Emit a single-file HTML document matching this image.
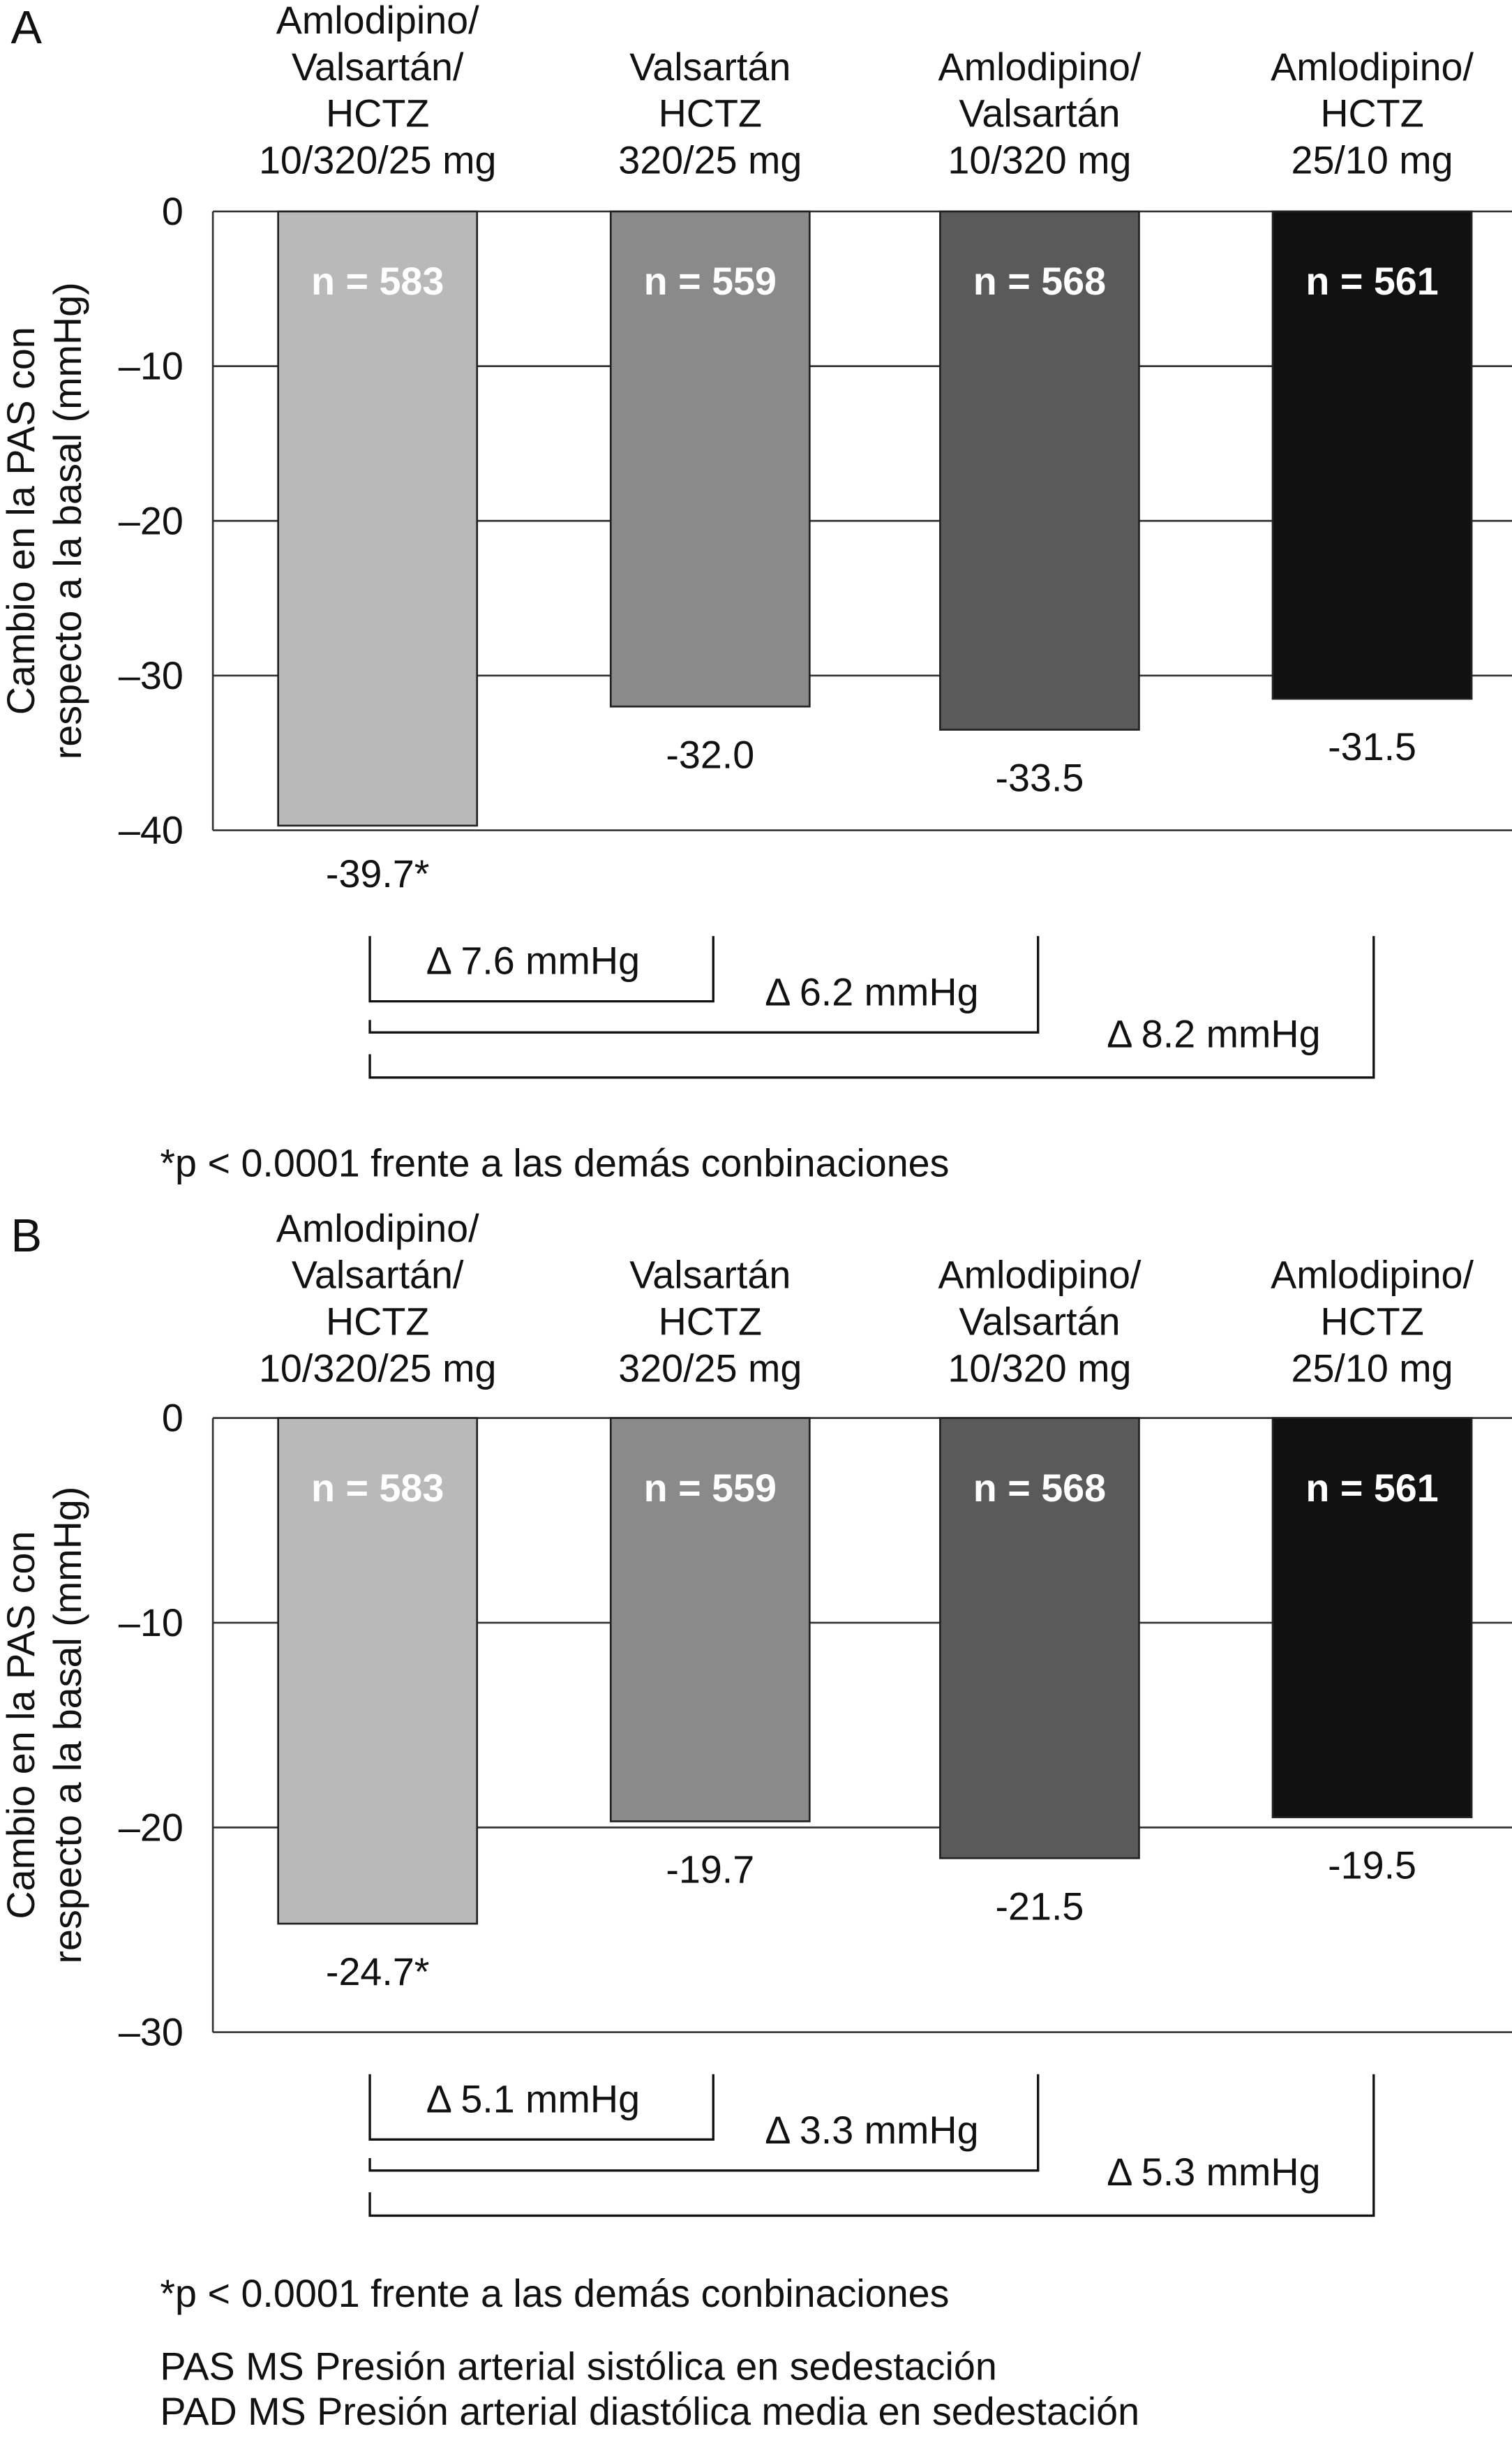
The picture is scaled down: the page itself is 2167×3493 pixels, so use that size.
<!DOCTYPE html>
<html><head><meta charset="utf-8"><style>
html,body{margin:0;padding:0;background:#fff;}
svg{display:block;font-family:"Liberation Sans",Arial,sans-serif;}
</style></head><body>
<svg id="fig" width="2167" height="3493" viewBox="0 0 973 1568" preserveAspectRatio="none" xmlns="http://www.w3.org/2000/svg">
<g id="root"></g>
</svg>
<script>
const categoryLines = [["Amlodipino/","Valsartán/","HCTZ","10/320/25 mg"],["Valsartán","HCTZ","320/25 mg"],["Amlodipino/","Valsartán","10/320 mg"],["Amlodipino/","HCTZ","25/10 mg"]];
const nLabels = ["n = 583","n = 559","n = 568","n = 561"];
const valuesA = [-39.7, -32.0, -33.5, -31.5];
const labelsA = ["-39.7*","-32.0","-33.5","-31.5"];
const ticksA = [0,-10,-20,-30,-40];
const valuesB = [-24.7, -19.7, -21.5, -19.5];
const labelsB = ["-24.7*","-19.7","-21.5","-19.5"];
const ticksB = [0,-10,-20,-30];
const deltasA = ["Δ 7.6 mmHg","Δ 6.2 mmHg","Δ 8.2 mmHg"];
const deltasB = ["Δ 5.1 mmHg","Δ 3.3 mmHg","Δ 5.3 mmHg"];

const NS="http://www.w3.org/2000/svg";
const root=document.getElementById('root');
const colors=["#b9b9b9","#8a8a8a","#5a5a5a","#111111"];
const centers=[243,457,669,883];
const FS=25;
function mk(tag,attrs,parent){const e=document.createElementNS(NS,tag);for(const k in attrs)e.setAttribute(k,attrs[k]);(parent||root).appendChild(e);return e;}
function txt(s,x,y,attrs,parent){const t=mk('text',Object.assign({x:x,y:y,'font-size':FS,'text-anchor':'middle','dominant-baseline':'central',fill:'#111'},attrs||{}),parent);t.textContent=s;return t;}

function chart(id,letter,letterY,catTop,y0,yMin,ymBottom,values,labels,ticks,deltas,brTop,foot){
  const g=mk('g',{});
  
  
  const min=ticks[ticks.length-1];
  const y=v=>y0+(v/min)*(ymBottom-y0);
  const L=txt(letter,17,letterY,{'font-size':30},g);
  
  categoryLines.forEach((lines,i)=>{
    const start=catTop+(4-lines.length)*30;
    lines.forEach((ln,j)=>{const t=txt(ln,centers[i],start+j*30,{},g);
      });
  });
  ticks.forEach(v=>{
    const ln=mk('line',{x1:137,x2:973,y1:y(v),y2:y(v),stroke:'#333','stroke-width':1.2},g);
    
    const t=txt(v===0?"0":"–"+Math.abs(v),118,y(v),{'text-anchor':'end'},g);
    
  });
  const ax=mk('line',{x1:137,x2:137,y1:y0,y2:ymBottom,stroke:'#333','stroke-width':1.2},g);
  
  const yt=mk('text',{transform:`translate(29,${(y0+ymBottom)/2}) rotate(-90)`,'font-size':FS,'text-anchor':'middle',fill:'#111'},g);
  
  const s1=mk('tspan',{x:0,y:-7},yt);s1.textContent="Cambio en la PAS con";
  const s2=mk('tspan',{x:0,dy:30},yt);s2.textContent="respecto a la basal (mmHg)";
  values.forEach((v,i)=>{
    const b=mk('rect',{x:centers[i]-64,y:y0,width:128,height:y(v)-y0,fill:colors[i],stroke:'#222','stroke-width':1.2},g);
    
    const n=txt(nLabels[i],centers[i],y0+45,{fill:'#fff','font-weight':'bold'},g);
    
    const vl=txt(labels[i],centers[i],y(v)+31,{},g);
    
  });
  const T=brTop,st={fill:'none',stroke:'#111','stroke-width':1.5};
  const b1=mk('path',Object.assign({d:`M238 ${T} V${T+42} H459 V${T}`},st),g);
  
  const b2=mk('path',Object.assign({d:`M238 ${T+54} V${T+62} H668 V${T}`},st),g);
  
  const b3=mk('path',Object.assign({d:`M238 ${T+76} V${T+91} H884 V${T}`},st),g);
  
  [[343,T+16],[561,T+36],[781,T+63]].forEach((p,i)=>{const t=txt(deltas[i],p[0],p[1],{},g);
    });
  const f=txt("*p < 0.0001 frente a las demás conbinaciones",103,foot,{'text-anchor':'start'},g);
  
}
chart('a','A',18,13,136,-40,534,valuesA,labelsA,ticksA,deltasA,602,748);
chart('b','B',795,790,912,-30,1307,valuesB,labelsB,ticksB,deltasB,1334,1475);
const n1=txt("PAS MS Presión arterial sistólica en sedestación",103,1522,{'text-anchor':'start'});


const n2=txt("PAD MS Presión arterial diastólica media en sedestación",103,1551,{'text-anchor':'start'});


</script>
</body></html>
